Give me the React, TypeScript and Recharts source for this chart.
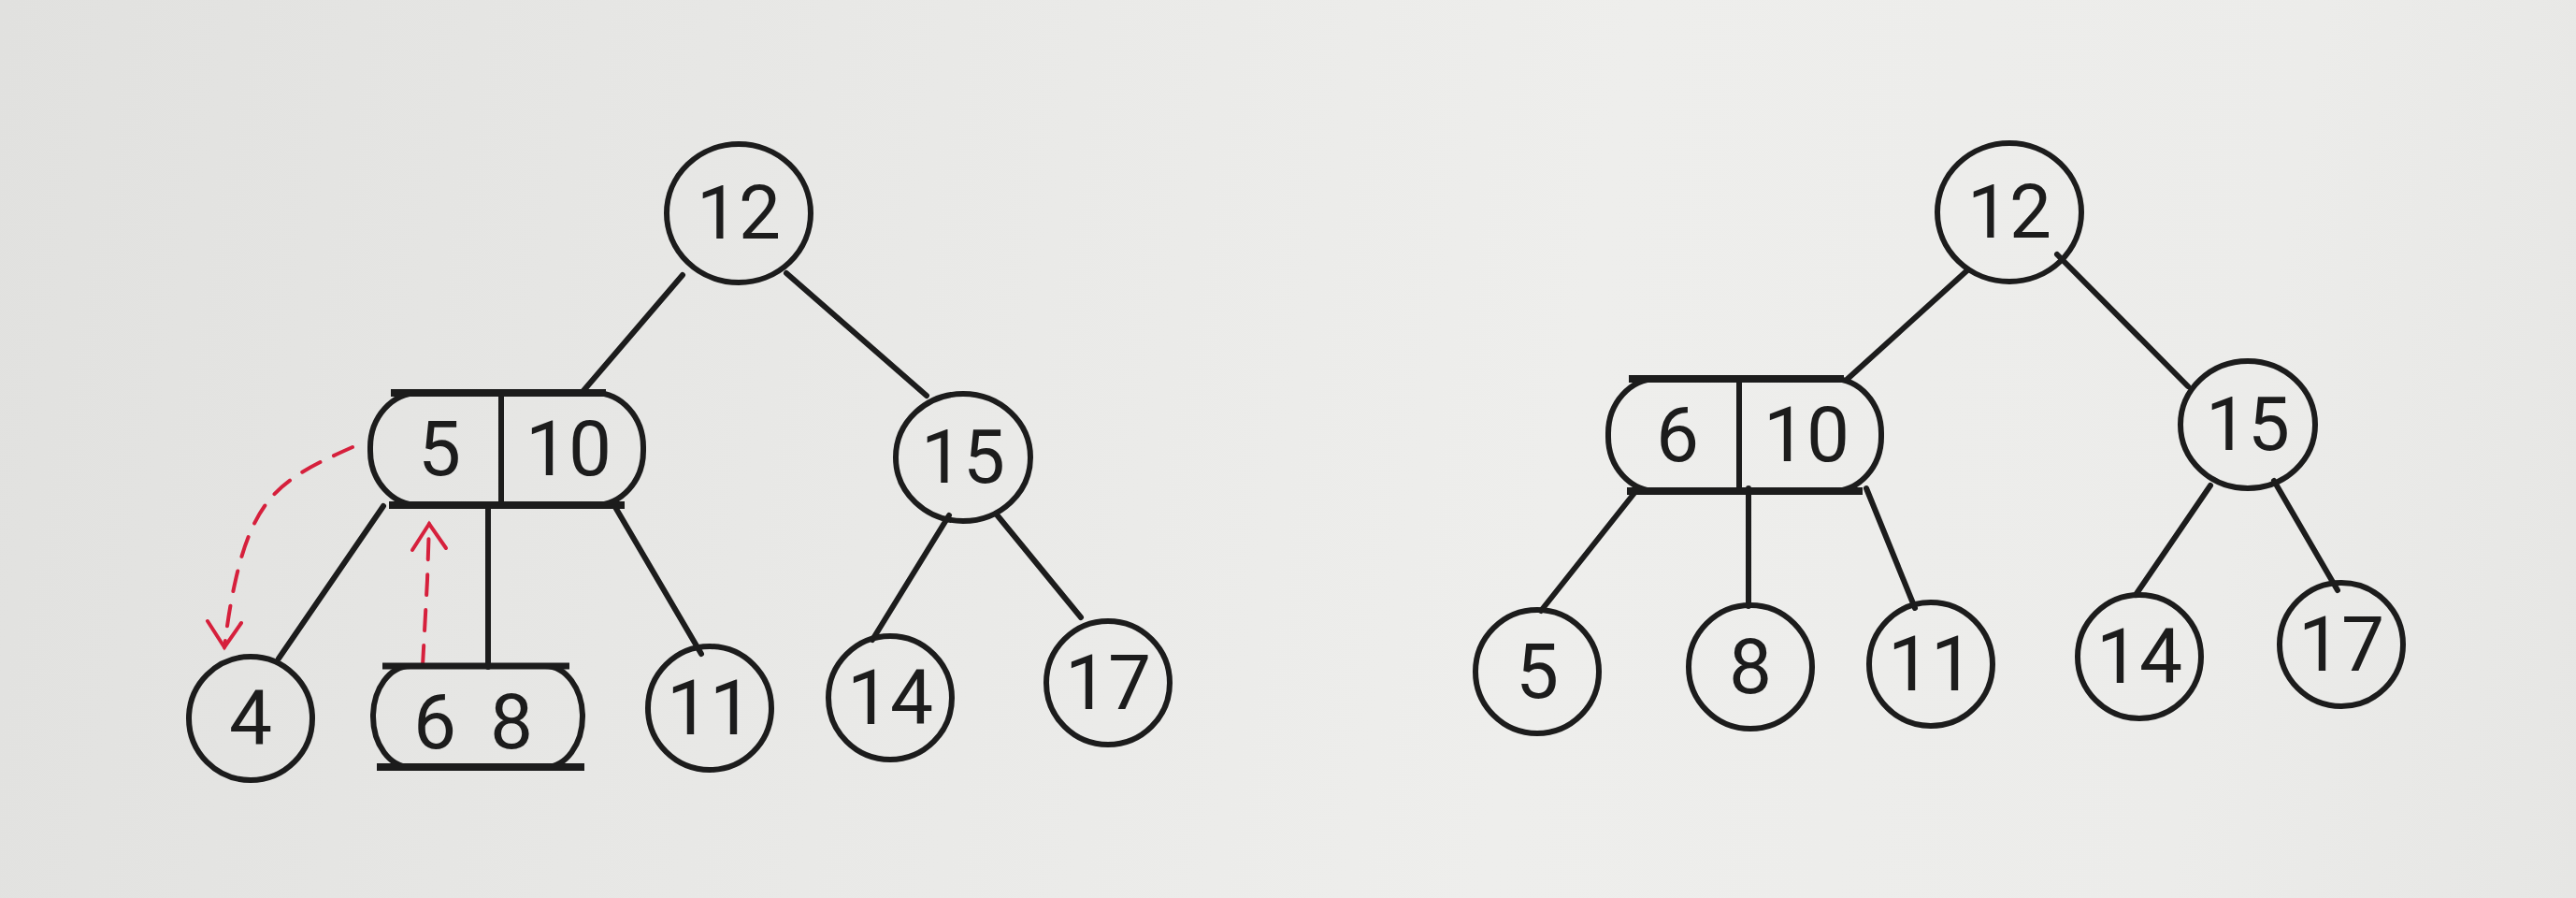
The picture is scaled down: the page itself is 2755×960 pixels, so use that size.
import React from 'react'
import { ScatterChart, Scatter, XAxis, YAxis } from 'recharts'

const W = 2755
const H = 960
const INK = '#1c1c1c'
const RED = '#d6203c'

// node centres, in page units (x right, y down)
const roots = [
  { label: '12', x: 790, y: 228 },
  { label: '12', x: 2149, y: 227 },
]
const innerNodes = [
  { label: '15', x: 1030, y: 489 },
  { label: '15', x: 2404, y: 454 },
]
const leaves = [
  { label: '4', x: 268, y: 768 },
  { label: '11', x: 759, y: 757 },
  { label: '14', x: 952, y: 746 },
  { label: '17', x: 1185, y: 730 },
  { label: '5', x: 1644, y: 718 },
  { label: '8', x: 1872, y: 713 },
  { label: '11', x: 2065, y: 710 },
  { label: '14', x: 2288, y: 702 },
  { label: '17', x: 2504, y: 689 },
]
const pairNodes = [
  { left: '5', right: '10', x: 542, y: 480 },
  { left: '6', right: '10', x: 1866, y: 465 },
]
const mergedLeaf = [{ left: '6', right: '8', x: 511, y: 766 }]

// edges: x1, y1, x2, y2
const leftEdges = [
  [730, 294, 622, 420],
  [841, 292, 991, 423],
  [410, 541, 298, 704],
  [522, 539, 522, 713],
  [655, 537, 750, 699],
  [1015, 551, 933, 684],
  [1065, 549, 1156, 660],
]
const rightEdges = [
  [2104, 289, 1976, 405],
  [2200, 272, 2340, 413],
  [1748, 527, 1648, 653],
  [1870, 522, 1870, 648],
  [1996, 522, 2048, 650],
  [2364, 519, 2284, 636],
  [2432, 514, 2500, 631],
]

// red dashed moves
const rotateDown = [
  { x: 377, y: 478 },
  { x: 290, y: 532 },
  { x: 252, y: 620 },
  { x: 240, y: 692 },
]
const pushUp = [
  { x: 452, y: 712 },
  { x: 457, y: 620 },
  { x: 459, y: 560 },
]

const textStyle = {
  fontFamily: 'Roboto, "DejaVu Sans", sans-serif',
  fontWeight: 400,
  fill: INK,
}

function circleShape(rx: number, ry: number, size: number) {
  return (p: any) => (
    <g>
      <ellipse cx={p.cx} cy={p.cy} rx={rx} ry={ry} fill="none" stroke={INK} strokeWidth={6} />
      <text x={p.cx} y={p.cy} textAnchor="middle" dominantBaseline="central" fontSize={size} style={textStyle}>
        {p.payload.label}
      </text>
    </g>
  )
}

function pairShape(p: any) {
  const hw = 146
  const hh = 60
  const { cx, cy } = p
  return (
    <g>
      <rect x={cx - hw} y={cy - hh} width={hw * 2} height={hh * 2} rx={52} ry={58} fill="none" stroke={INK} strokeWidth={6} />
      <line x1={cx - hw + 22} y1={cy - hh} x2={cx + hw - 40} y2={cy - hh} stroke={INK} strokeWidth={8} />
      <line x1={cx - hw + 20} y1={cy + hh} x2={cx + hw - 20} y2={cy + hh} stroke={INK} strokeWidth={8} />
      <line x1={cx - 6} y1={cy - hh} x2={cx - 6} y2={cy + hh} stroke={INK} strokeWidth={6} />
      <text x={cx - 72} y={cy} textAnchor="middle" dominantBaseline="central" fontSize={82} style={textStyle}>
        {p.payload.left}
      </text>
      <text x={cx + 66} y={cy} textAnchor="middle" dominantBaseline="central" fontSize={82} style={textStyle}>
        {p.payload.right}
      </text>
    </g>
  )
}

function mergedShape(p: any) {
  const hw = 112
  const hh = 54
  const { cx, cy } = p
  return (
    <g>
      <rect x={cx - hw} y={cy - hh} width={hw * 2} height={hh * 2} rx={40} ry={54} fill="none" stroke={INK} strokeWidth={6} />
      <line x1={cx - hw + 10} y1={cy - hh} x2={cx + hw - 14} y2={cy - hh} stroke={INK} strokeWidth={7} />
      <line x1={cx - hw + 4} y1={cy + hh} x2={cx + hw + 2} y2={cy + hh} stroke={INK} strokeWidth={8} />
      <text x={cx - 46} y={cy + 6} textAnchor="middle" dominantBaseline="central" fontSize={82} style={textStyle}>
        {p.payload.left}
      </text>
      <text x={cx + 36} y={cy + 6} textAnchor="middle" dominantBaseline="central" fontSize={82} style={textStyle}>
        {p.payload.right}
      </text>
    </g>
  )
}

const noDot = () => <g />

function arrowHead(points: { x: number; y: number }[], dir: 'down' | 'up') {
  const last = points[points.length - 1]
  return (p: any) => {
    if (p.payload.x !== last.x || p.payload.y !== last.y) return <g />
    const s = dir === 'down' ? -1 : 1
    return (
      <path
        d={`M${p.cx - 18},${p.cy + s * 28} L${p.cx},${p.cy} L${p.cx + 18},${p.cy + s * 26}`}
        fill="none"
        stroke={RED}
        strokeWidth={4}
        strokeLinecap="round"
      />
    )
  }
}

const edgeLine = { stroke: INK, strokeWidth: 6, strokeLinecap: 'round' as const }
const moveLine = { stroke: RED, strokeWidth: 4, strokeDasharray: '22 16', strokeLinecap: 'round' as const }

export default function App() {
  const edges = [...leftEdges, ...rightEdges]
  return (
    <div
      style={{
        position: 'absolute',
        left: 0,
        top: 0,
        width: W,
        height: H,
        background: 'linear-gradient(100deg, #e1e1df 0%, #e9e9e7 35%, #eeeeec 60%, #ececea 85%, #e6e6e4 100%)',
      }}
    >
      <ScatterChart width={W} height={H} margin={{ top: 0, right: 0, bottom: 0, left: 0 }}>
        <XAxis type="number" dataKey="x" domain={[0, W]} hide allowDataOverflow />
        <YAxis type="number" dataKey="y" domain={[0, H]} reversed hide allowDataOverflow />
        {edges.map((e, i) => (
          <Scatter
            key={'e' + i}
            data={[
              { x: e[0], y: e[1] },
              { x: e[2], y: e[3] },
            ]}
            line={edgeLine}
            shape={noDot}
            fill={INK}
            isAnimationActive={false}
          />
        ))}
        <Scatter
          data={rotateDown}
          line={moveLine}
          lineJointType="natural"
          shape={arrowHead(rotateDown, 'down')}
          fill={RED}
          isAnimationActive={false}
        />
        <Scatter
          data={pushUp}
          line={moveLine}
          shape={arrowHead(pushUp, 'up')}
          fill={RED}
          isAnimationActive={false}
        />
        <Scatter data={roots} shape={circleShape(77, 74, 80)} isAnimationActive={false} />
        <Scatter data={innerNodes} shape={circleShape(72, 68, 80)} isAnimationActive={false} />
        <Scatter data={leaves} shape={circleShape(66, 66, 82)} isAnimationActive={false} />
        <Scatter data={pairNodes} shape={pairShape} isAnimationActive={false} />
        <Scatter data={mergedLeaf} shape={mergedShape} isAnimationActive={false} />
      </ScatterChart>
    </div>
  )
}
